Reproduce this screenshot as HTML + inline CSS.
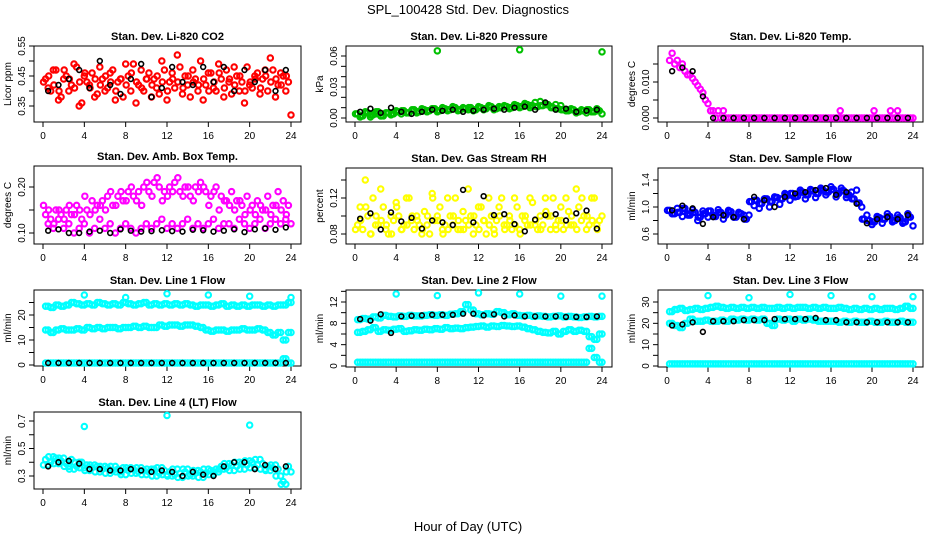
<!DOCTYPE html>
<html><head><meta charset="utf-8"><style>
html,body{margin:0;padding:0;background:#fff}
svg text{font-family:"Liberation Sans",sans-serif;fill:#000}
</style></head><body>
<svg id="chart" width="936" height="540" viewBox="0 0 936 540" xmlns="http://www.w3.org/2000/svg">
<rect width="936" height="540" fill="#fff"/>
<text x="468" y="14" text-anchor="middle" font-size="13">SPL_100428  Std. Dev. Diagnostics</text>
<text x="468" y="531" text-anchor="middle" font-size="13">Hour of Day (UTC)</text>
</svg>
<script>
const co2A=[0.44,0.40,0.47,0.38,0.45,0.42,0.48,0.36,0.43,0.46,0.39,0.44,0.41,0.47,0.43,0.38,0.45,0.49,0.42,0.40,0.46,0.44,0.39,0.47,0.43,0.41,0.48,0.45,0.38,0.44,0.50,0.42,0.46,0.40,0.44,0.47,0.39,0.45,0.43,0.48,0.41,0.46,0.44,0.40,0.47,0.42,0.45,0.43];
const co2B=[0.41,0.47,0.37,0.44,0.40,0.49,0.35,0.45,0.42,0.38,0.48,0.40,0.46,0.37,0.44,0.49,0.40,0.36,0.47,0.44,0.38,0.41,0.50,0.37,0.46,0.52,0.39,0.42,0.47,0.40,0.37,0.46,0.41,0.49,0.38,0.43,0.48,0.40,0.36,0.42,0.45,0.39,0.47,0.51,0.38,0.46,0.40,0.32];
const co2C=[0.43,0.45,0.42,0.40,0.47,0.44,0.41,0.43,0.46,0.41,0.44,0.42,0.45,0.43,0.40,0.44,0.42,0.46,0.43,0.41,0.44,0.42,0.45,0.43,0.40,0.44,0.43,0.41,0.45,0.43,0.42,0.44,0.40,0.43,0.46,0.41,0.44,0.42,0.45,0.40,0.43,0.44,0.41,0.45,0.43,0.44,0.42,0.45];
const co2K=[0.40,0.42,0.44,0.47,0.41,0.50,0.42,0.39,0.44,0.49,0.38,0.41,0.48,0.43,0.42,0.48,0.43,0.48,0.40,0.47,0.43,0.47,0.40,0.47];
const prA=[0.004,0.002,0.005,0.003,0.006,0.002,0.005,0.004,0.006,0.007,0.005,0.008,0.006,0.008,0.007,0.009,0.007,0.009,0.008,0.010,0.008,0.009,0.010,0.008,0.010,0.009,0.011,0.009,0.010,0.011,0.010,0.012,0.011,0.013,0.012,0.011,0.012,0.013,0.010,0.009,0.008,0.007,0.008,0.006,0.007,0.008,0.006,0.007];
const prB=[0.001,0.006,0.001,0.004,0.002,0.005,0.003,0.007,0.004,0.005,0.007,0.005,0.009,0.006,0.009,0.006,0.010,0.007,0.011,0.007,0.010,0.008,0.007,0.011,0.008,0.012,0.008,0.011,0.012,0.009,0.013,0.010,0.014,0.010,0.015,0.016,0.014,0.011,0.013,0.012,0.007,0.009,0.005,0.008,0.005,0.006,0.009,0.004];
const prOutH=[8,16,24];
const prOut=[0.065,0.066,0.064];
const prK=[0.006,0.009,0.005,0.010,0.006,0.004,0.006,0.008,0.007,0.008,0.006,0.007,0.008,0.009,0.008,0.010,0.011,0.008,0.015,0.008,0.009,0.006,0.007,0.008];
const tpA=[0.016,0.015,0.014,0.013,0.012,0.010,0.008,0.005,0.002,0,0,0,0,0,0,0,0,0,0,0,0,0,0,0,0,0,0,0,0,0,0,0,0,0,0,0,0,0,0,0,0,0,0,0,0,0,0,0];
const tpB=[0.018,0.016,0.015,0.012,0.011,0.009,0.007,0.004,0.002,0.002,0.002,0,0,0,0,0,0,0,0,0,0,0,0,0,0,0,0,0,0,0,0,0,0,0,0,0,0,0,0,0,0,0,0,0,0,0,0,0];
const tpOutH=[16.9,20.2,21.8,22.5];
const tpOut=[0.002,0.002,0.002,0.002];
const tpK=[0.013,0.014,0.013,0.006,0,0,0,0,0,0,0,0,0,0,0,0,0,0,0,0,0,0,0,0];
const abA=[0.14,0.13,0.15,0.14,0.15,0.14,0.16,0.13,0.15,0.17,0.16,0.17,0.18,0.16,0.18,0.17,0.19,0.18,0.19,0.20,0.19,0.21,0.20,0.19,0.20,0.21,0.19,0.20,0.18,0.20,0.21,0.19,0.18,0.20,0.18,0.17,0.19,0.17,0.16,0.18,0.16,0.17,0.15,0.18,0.16,0.19,0.17,0.16];
const abB=[0.12,0.11,0.13,0.11,0.12,0.10,0.11,0.12,0.10,0.11,0.13,0.11,0.12,0.10,0.11,0.12,0.11,0.10,0.11,0.12,0.11,0.12,0.13,0.11,0.12,0.11,0.12,0.13,0.11,0.12,0.11,0.12,0.13,0.11,0.12,0.12,0.11,0.13,0.12,0.11,0.12,0.13,0.11,0.12,0.13,0.12,0.13,0.12];
const abC=[0.16,0.15,0.12,0.15,0.13,0.16,0.14,0.15,0.18,0.14,0.15,0.16,0.15,0.19,0.16,0.19,0.17,0.20,0.17,0.16,0.21,0.18,0.22,0.17,0.18,0.19,0.22,0.18,0.20,0.17,0.19,0.20,0.16,0.19,0.15,0.17,0.16,0.15,0.17,0.14,0.15,0.14,0.16,0.15,0.14,0.16,0.15,0.14];
const abK=[0.105,0.108,0.100,0.100,0.103,0.105,0.100,0.108,0.105,0.103,0.104,0.106,0.104,0.103,0.107,0.106,0.103,0.105,0.108,0.102,0.108,0.110,0.107,0.112];
const rhA=[0.09,0.085,0.10,0.12,0.09,0.11,0.08,0.095,0.10,0.09,0.12,0.085,0.09,0.105,0.08,0.095,0.11,0.09,0.10,0.12,0.085,0.095,0.10,0.09,0.11,0.08,0.10,0.095,0.12,0.09,0.085,0.11,0.10,0.09,0.115,0.085,0.09,0.10,0.12,0.095,0.085,0.105,0.09,0.11,0.10,0.09,0.12,0.095];
const rhB=[0.11,0.14,0.08,0.09,0.13,0.085,0.10,0.115,0.085,0.12,0.095,0.10,0.08,0.09,0.125,0.10,0.085,0.12,0.09,0.085,0.105,0.13,0.08,0.11,0.095,0.12,0.085,0.11,0.09,0.10,0.12,0.085,0.095,0.12,0.09,0.10,0.12,0.085,0.09,0.11,0.12,0.09,0.13,0.095,0.085,0.12,0.09,0.10];
const rhC=[0.085,0.095,0.11,0.08,0.10,0.095,0.09,0.08,0.11,0.085,0.09,0.10,0.095,0.085,0.10,0.12,0.095,0.08,0.085,0.10,0.095,0.085,0.09,0.10,0.085,0.095,0.09,0.08,0.10,0.085,0.095,0.09,0.08,0.10,0.09,0.095,0.085,0.105,0.10,0.085,0.095,0.09,0.10,0.085,0.12,0.10,0.095,0.085];
const rhK=[0.097,0.103,0.085,0.104,0.094,0.098,0.086,0.095,0.093,0.090,0.129,0.093,0.122,0.101,0.102,0.091,0.083,0.096,0.101,0.102,0.095,0.103,0.106,0.086];
const sfA=[0.95,0.90,0.92,0.98,0.88,0.92,0.85,0.90,0.94,0.86,0.92,0.88,0.93,0.85,0.90,0.82,1.08,1.10,1.05,1.12,1.08,1.14,1.12,1.18,1.20,1.16,1.22,1.18,1.24,1.20,1.25,1.22,1.26,1.20,1.24,1.18,1.12,1.06,0.82,0.80,0.78,0.84,0.82,0.86,0.80,0.84,0.78,0.85];
const sfB=[0.90,0.98,0.86,0.90,0.96,0.80,0.94,0.85,0.88,0.96,0.82,0.95,0.85,0.92,0.88,0.88,1.02,0.98,1.12,1.00,1.15,1.04,1.20,1.10,1.15,1.25,1.12,1.26,1.14,1.28,1.18,1.30,1.15,1.28,1.14,1.22,1.25,1.00,0.88,0.74,0.86,0.76,0.90,0.78,0.88,0.76,0.90,0.72];
const sfK=[0.95,1.02,0.98,0.75,0.85,0.88,0.85,0.82,1.15,1.10,1.00,1.15,1.20,1.22,1.25,1.28,1.18,1.22,1.05,0.76,0.82,0.85,0.82,0.88];
const l1Up=[23.5,23,24,23.5,24,25,24.5,24,24.5,24,25,24.5,24,24.5,24,25,24.5,24,24.5,25,24,24.5,24,24.5,24,24.5,24,24.5,24,23.5,24,24,23.5,24,24.5,23.5,24,23.5,24,23.5,24,24,23.5,24,23.5,24,24,25];
const l1Mid=[14,13,14,14.5,14,14,14.5,14,15,14.5,15,14.5,15,15,14.5,15,15,15.5,15,15.5,15,15,16,15.5,16,16,15.5,16,16,15.5,15,14,13.5,14,14,13.5,14,14,14.5,14,14,14.5,14,13,12,13,10,13];
const l1Low=[0.8,0.8,0.8,0.8,0.8,0.8,0.8,0.8,0.8,0.8,0.8,0.8,0.8,0.8,0.8,0.8,0.8,0.8,0.8,0.8,0.8,0.8,0.8,0.8,0.8,0.8,0.8,0.8,0.8,0.8,0.8,0.8,0.8,0.8,0.8,0.8,0.8,0.8,0.8,0.8,0.8,0.8,0.8,0.8,0.8,0.8,2.5,0.8];
const l1OutH=[4,8,12,16,20,24];
const l1Out=[28,27,28.5,28,27.5,27];
const l1K=[0.8,0.8,0.8,0.8,0.8,0.8,0.8,0.8,0.8,0.8,0.8,0.8,0.8,0.8,0.8,0.8,0.8,0.8,0.8,0.8,0.8,0.8,0.8,0.8];
const l2Up=[8.7,8.9,8.8,9.2,9.0,9.5,9.3,9.2,9.4,9.3,9.5,9.4,9.4,9.5,9.6,9.5,9.6,9.5,9.7,9.8,10.2,11.5,10.5,9.8,9.6,9.8,9.7,10.2,10.0,9.6,9.8,9.5,9.4,9.5,9.3,9.4,9.3,9.2,9.3,9.4,9.2,9.3,9.2,9.1,9.2,9.3,9.2,9.3];
const l2Mid=[6.3,6.5,6.8,7.2,6.5,6.8,6.7,6.9,7.0,6.5,6.6,6.8,6.7,6.9,6.8,7.0,6.9,7.2,7.0,7.1,7.0,7.2,7.3,7.4,7.5,7.3,7.5,7.4,7.6,7.5,7.4,7.5,7.3,7.0,6.8,6.5,6.3,6.2,6.5,6.0,6.5,6.8,6.5,6.7,6.5,5.5,5.0,6.0];
const l2Low=[0.7,0.7,0.7,0.7,0.7,0.7,0.7,0.7,0.7,0.7,0.7,0.7,0.7,0.7,0.7,0.7,0.7,0.7,0.7,0.7,0.7,0.7,0.7,0.7,0.7,0.7,0.7,0.7,0.7,0.7,0.7,0.7,0.7,0.7,0.7,0.7,0.7,0.7,0.7,0.7,0.7,0.7,0.7,0.7,0.7,3.3,1.6,0.7];
const l2OutH=[4,8,12,16,20,24];
const l2Out=[13.5,13.2,13.7,13.5,13.1,13.1];
const l2K=[8.8,8.5,9.7,6.2,9.3,9.4,9.5,9.6,9.6,9.6,9.8,9.8,9.5,9.7,9.3,9.5,9.3,9.3,9.3,9.3,9.2,9.2,9.2,9.3];
const l3Up=[25.5,26.5,27,26,26.5,27,26.5,27,27.5,28,27.5,27,27.5,27,27.5,27,27.5,27,27.5,27,27,27.5,27,27.5,27,27.5,27.5,27,27.5,27,27.5,27,27,27.5,27,26.5,27,26.5,27,26.5,27,26.5,27,27,26.5,27,28,27];
const l3Mid=[20,19,18,20,22,21,21,21.5,21,21,21.5,21,22,21.5,22,21.5,22,21.5,22,20,19,22,21.5,22,21,22,21.5,22,21.5,21,21,21,21,20.5,21,20.5,21,20.5,20.5,21,20.5,20.5,21,20.5,20.5,21,20.5,20.5];
const l3Low=[1,1,1,1,1,1,1,1,1,1,1,1,1,1,1,1,1,1,1,1,1,1,1,1,1,1,1,1,1,1,1,1,1,1,1,1,1,1,1,1,1,1,1,1,1,1,1,1];
const l3OutH=[4,8,12,16,20,24];
const l3Out=[33,32,33.5,33,32.5,32.5];
const l3K=[19,19.5,20.5,16,21,21,21,21.5,21.5,21.5,22,22,22,22,22.5,21.5,21.5,20.5,20.5,20.5,20.5,20.5,20.5,20.5];
const l4A=[0.42,0.40,0.43,0.41,0.39,0.42,0.37,0.40,0.38,0.36,0.37,0.35,0.36,0.34,0.35,0.36,0.34,0.35,0.33,0.34,0.33,0.35,0.32,0.34,0.33,0.31,0.32,0.33,0.31,0.32,0.33,0.32,0.34,0.35,0.37,0.36,0.38,0.37,0.39,0.38,0.40,0.38,0.39,0.37,0.36,0.35,0.26,0.37];
const l4B=[0.38,0.44,0.39,0.43,0.37,0.35,0.40,0.36,0.34,0.38,0.33,0.37,0.32,0.37,0.33,0.31,0.36,0.32,0.36,0.31,0.35,0.30,0.36,0.31,0.30,0.35,0.29,0.35,0.30,0.34,0.29,0.35,0.31,0.33,0.35,0.39,0.34,0.40,0.35,0.41,0.36,0.42,0.35,0.34,0.38,0.30,0.24,0.33];
const l4OutH=[4,12,20];
const l4Out=[0.66,0.74,0.67];
const l4K=[0.37,0.40,0.41,0.39,0.35,0.35,0.34,0.34,0.35,0.34,0.33,0.34,0.33,0.30,0.33,0.31,0.30,0.37,0.40,0.40,0.35,0.38,0.35,0.37];
const xTicks=[0,4,8,12,16,20,24];

const H48=[];for(let i=0;i<48;i++)H48.push(i*0.5+0.25);
const H48s=[];for(let i=0;i<48;i++)H48s.push(i*0.5+0.5);
const H48t=[];for(let i=0;i<48;i++)H48t.push(i*0.5+0.05);
const H24=[];for(let i=0;i<24;i++)H24.push(i+0.5);

const NS="http://www.w3.org/2000/svg";
const svg=document.getElementById('chart');
function mk(tag,attrs,parent){const e=document.createElementNS(NS,tag);for(const k in attrs)e.setAttribute(k,attrs[k]);(parent||svg).appendChild(e);return e;}

function panel(p){
  const g=mk('g',{});
  
  
  const [L,T,R,B]=p.box;
  const x0=L+9,x1=R-10;
  const xs=h=>x0+h*(x1-x0)/24;
  const ys=v=>p.y0[1]+(v-p.y0[0])*(p.y1[1]-p.y0[1])/(p.y1[0]-p.y0[0]);
  const box=mk('rect',{x:L,y:T,width:R-L,height:B-T,fill:'none',stroke:'#000','stroke-width':1},g);
  
  
  const t=mk('text',{x:(L+R)/2,y:T-6,'text-anchor':'middle','font-size':11,'font-weight':'bold'},g);
  t.textContent=p.title;
  
  
  const yl=mk('text',{x:L-23,y:(T+B)/2,'text-anchor':'middle','font-size':10,transform:`rotate(-90 ${L-23} ${(T+B)/2})`},g);
  yl.textContent=p.ylab;
  
  
  xTicks.forEach(v=>{
    const x=xs(v);
    mk('line',{x1:x,x2:x,y1:B,y2:B+5,stroke:'#000'},g);
    const tl=mk('text',{x:x,y:B+17,'text-anchor':'middle','font-size':10},g);
    tl.textContent=v;
    
    
  });
  p.ticks.forEach(v=>{
    const y=ys(v);
    mk('line',{x1:L-5,x2:L,y1:y,y2:y,stroke:'#000'},g);
  });
  p.labels.forEach((lab,i)=>{
    const y=ys(p.labelVals[i]);
    const tl=mk('text',{x:L-9,y:y,'text-anchor':'middle','font-size':10,transform:`rotate(-90 ${L-9} ${y})`},g);
    tl.textContent=lab;
    
    
  });
  p.series.forEach(s=>{
    const black=s.c==='#000000';
    s.v.forEach((v,i)=>{
      const c=mk('circle',{cx:xs(s.h[i]),cy:ys(v),r:black?2.4:2.7,fill:'none',stroke:s.c,'stroke-width':black?1.6:2.1},g);
      
      
    });
  });
}
const RED='#ff0000',GRN='#00c000',MAG='#ff00ff',YEL='#ffff00',BLU='#0000ff',CYN='#00ffff',BLK='#000000';
panel({name:'co2',title:'Stan. Dev. Li-820 CO2',ylab:'Licor ppm',box:[34,46,301,122],y0:[0.35,106],y1:[0.55,46],
 ticks:[0.35,0.40,0.45,0.50,0.55],labels:['0.35','0.45','0.55'],labelVals:[0.35,0.45,0.55],
 series:[{h:H48t,v:co2C,c:RED},{h:H48,v:co2A,c:RED},{h:H48s,v:co2B,c:RED},{h:H24,v:co2K,c:BLK}]});
panel({name:'pressure',title:'Stan. Dev. Li-820 Pressure',ylab:'kPa',box:[346,46,612,122],y0:[0,118],y1:[0.06,56],
 ticks:[0,0.01,0.02,0.03,0.04,0.05,0.06],labels:['0.00','0.03','0.06'],labelVals:[0,0.03,0.06],
 series:[{h:H48,v:prA,c:GRN},{h:H48s,v:prB,c:GRN},{h:H48t,v:prA,c:GRN},{h:prOutH,v:prOut,c:GRN},{h:H24,v:prK,c:BLK}]});
panel({name:'li820-temp',title:'Stan. Dev. Li-820 Temp.',ylab:'degrees C',box:[658,46,923,122],y0:[0,118],y1:[0.010,82],
 ticks:[0,0.005,0.010,0.015],labels:['0.000','0.010'],labelVals:[0,0.010],
 series:[{h:H48,v:tpA,c:MAG},{h:H48s,v:tpB,c:MAG},{h:tpOutH,v:tpOut,c:MAG},{h:H24,v:tpK,c:BLK}]});
panel({name:'amb-box-temp',title:'Stan. Dev. Amb. Box Temp.',ylab:'degrees C',box:[34,166,301,244],y0:[0.10,233],y1:[0.20,187],
 ticks:[0.10,0.15,0.20],labels:['0.10','0.20'],labelVals:[0.10,0.20],
 series:[{h:H48,v:abA,c:MAG},{h:H48s,v:abB,c:MAG},{h:H48t,v:abC,c:MAG},{h:H24,v:abK,c:BLK}]});
panel({name:'gas-rh',title:'Stan. Dev. Gas Stream RH',ylab:'percent',box:[346,168,612,244],y0:[0.08,234],y1:[0.12,198],
 ticks:[0.08,0.10,0.12,0.14],labels:['0.08','0.12'],labelVals:[0.08,0.12],
 series:[{h:H48,v:rhA,c:YEL},{h:H48s,v:rhB,c:YEL},{h:H48t,v:rhC,c:YEL},{h:H24,v:rhK,c:BLK}]});
panel({name:'sample-flow',title:'Stan. Dev. Sample Flow',ylab:'ml/min',box:[658,168,923,244],y0:[0.6,234],y1:[1.4,180],
 ticks:[0.6,0.8,1.0,1.2,1.4],labels:['0.6','1.0','1.4'],labelVals:[0.6,1.0,1.4],
 series:[{h:H48,v:sfA,c:BLU},{h:H48s,v:sfB,c:BLU},{h:H48t,v:sfA,c:BLU},{h:H24,v:sfK,c:BLK}]});
panel({name:'line1-flow',title:'Stan. Dev. Line 1 Flow',ylab:'ml/min',box:[34,290,301,366],y0:[0,365],y1:[20,315],
 ticks:[0,5,10,15,20,25],labels:['0','10','20'],labelVals:[0,10,20],
 series:[{h:H48,v:l1Up,c:CYN},{h:H48s,v:l1Up,c:CYN},{h:H48,v:l1Mid,c:CYN},{h:H48s,v:l1Mid,c:CYN},{h:H48,v:l1Low,c:CYN},{h:H48s,v:l1Low,c:CYN},{h:l1OutH,v:l1Out,c:CYN},{h:H24,v:l1K,c:BLK}]});
panel({name:'line2-flow',title:'Stan. Dev. Line 2 Flow',ylab:'ml/min',box:[346,290,612,367],y0:[0,366],y1:[12,302],
 ticks:[0,2,4,6,8,10,12,14],labels:['0','4','8','12'],labelVals:[0,4,8,12],
 series:[{h:H48,v:l2Up,c:CYN},{h:H48s,v:l2Up,c:CYN},{h:H48,v:l2Mid,c:CYN},{h:H48s,v:l2Mid,c:CYN},{h:H48,v:l2Low,c:CYN},{h:H48s,v:l2Low,c:CYN},{h:l2OutH,v:l2Out,c:CYN},{h:H24,v:l2K,c:BLK}]});
panel({name:'line3-flow',title:'Stan. Dev. Line 3 Flow',ylab:'ml/min',box:[658,290,923,367],y0:[0,366],y1:[30,302],
 ticks:[0,5,10,15,20,25,30],labels:['0','10','20','30'],labelVals:[0,10,20,30],
 series:[{h:H48,v:l3Up,c:CYN},{h:H48s,v:l3Up,c:CYN},{h:H48,v:l3Mid,c:CYN},{h:H48s,v:l3Mid,c:CYN},{h:H48,v:l3Low,c:CYN},{h:H48s,v:l3Low,c:CYN},{h:l3OutH,v:l3Out,c:CYN},{h:H24,v:l3K,c:BLK}]});
panel({name:'line4-flow',title:'Stan. Dev. Line 4 (LT) Flow',ylab:'ml/min',box:[34,412,301,489],y0:[0.3,476],y1:[0.7,421],
 ticks:[0.3,0.4,0.5,0.6,0.7],labels:['0.3','0.5','0.7'],labelVals:[0.3,0.5,0.7],
 series:[{h:H48,v:l4A,c:CYN},{h:H48s,v:l4B,c:CYN},{h:H48t,v:l4B,c:CYN},{h:l4OutH,v:l4Out,c:CYN},{h:H24,v:l4K,c:BLK}]});
</script>
</body></html>
